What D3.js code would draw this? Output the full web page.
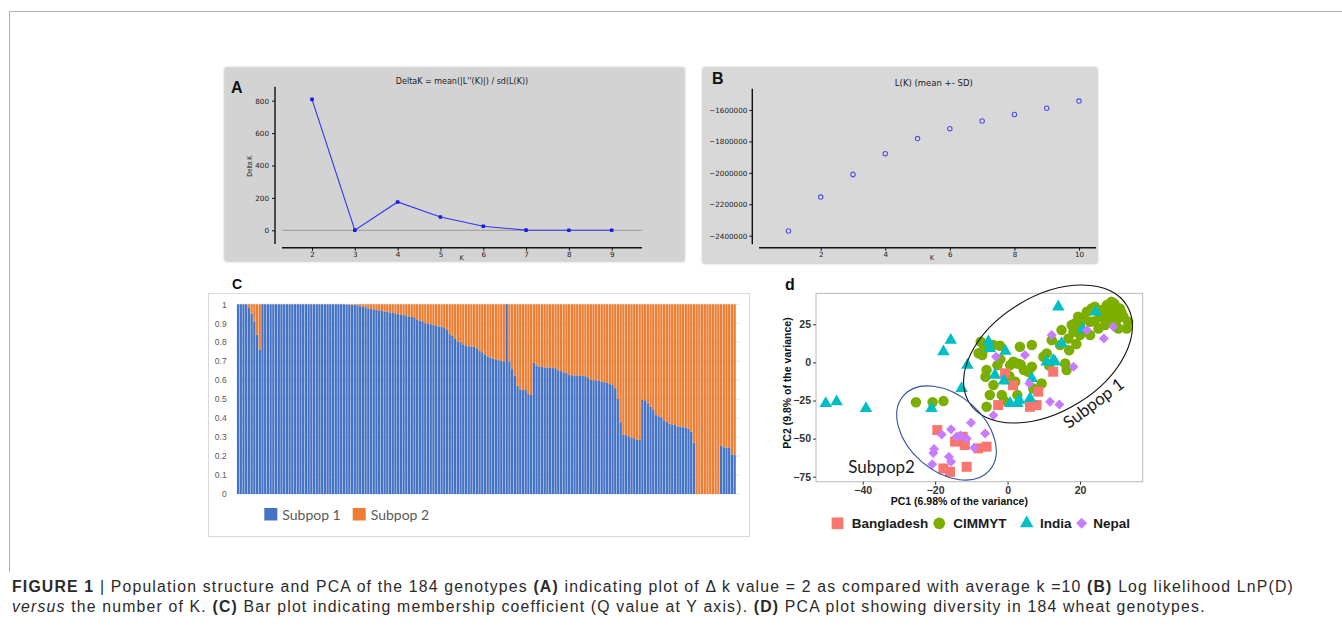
<!DOCTYPE html>
<html><head><meta charset="utf-8">
<script src="https://cdn.jsdelivr.net/npm/d3@7"></script>
<style>html,body{margin:0;padding:0;background:#fff;} svg{display:block;}</style>
</head><body>
<svg id="fig" width="1342" height="627"></svg>
<script>
// ---------------- DATA ----------------
// Panel A: Delta K
const deltaKs = [2, 3, 4, 5, 6, 7, 8, 9];
const deltaKValues = [808, 1, 175, 82, 25, 1, 0, 0];
const deltaKTicks = [0, 200, 400, 600, 800];
// Panel B: L(K) mean +- SD
const lnKs = [1, 2, 3, 4, 5, 6, 7, 8, 9, 10];
const lnMean = [-2370000, -2154000, -2010000, -1878000, -1782000, -1719000, -1670000, -1628000, -1589000, -1543000];
const lnSD = [5000, 5000, 20000, 5000, 5000, 5000, 5000, 5000, 5000, 5000];
const lnYTicks = [-1600000, -1800000, -2000000, -2200000, -2400000];
const lnXTicks = [2, 4, 6, 8, 10];
// Panel C: membership coefficient (Subpop 1 share) of 184 genotypes
const qSubpop1 = [
1,1,1,1,0.98,0.95,0.91,0.84,0.76,
1,1,1,1,1,1,1,1,1,1,1,1,1,1,1,1,1,1,1,1,1,1,1,1,1,1,1,1,1,1,1,
0.998,0.997,0.996,0.996,0.995,0.99,0.987,0.985,0.978,0.975,
0.972,0.970,0.967,0.965,0.962,0.960,0.957,0.955,0.952,0.948,
0.946,0.944,0.938,0.936,0.933,0.932,0.917,0.913,0.911,0.900,
0.897,0.895,0.891,0.889,0.882,0.880,0.878,0.865,0.842,0.834,
0.817,0.802,0.800,0.789,0.781,0.779,0.777,0.776,0.768,0.754,
0.747,0.736,0.724,0.720,0.713,0.710,0.705,0.702,0.698,1.0,
0.697,0.658,0.623,0.570,0.552,0.549,0.548,0.527,0.522,0.691,
0.678,0.672,0.670,0.667,0.666,0.665,0.664,0.663,0.652,0.648,
0.641,0.639,0.627,0.626,0.625,0.624,0.623,0.622,0.621,0.615,
0.602,0.600,0.599,0.598,0.592,0.590,0.586,0.579,0.577,0.558,
0.501,0.378,0.312,0.310,0.302,0.296,0.294,0.286,0.285,0.497,
0.494,0.478,0.460,0.443,0.416,0.410,0.404,0.385,0.381,0.370,
0.367,0.364,0.356,0.354,0.352,0.350,0.344,0.328,0.270,0,
0,0,0,0,0,0,0,0,
0.255,0.246,0.245,0.244,0.209,0.205
];
const qTicks = [0, 0.1, 0.2, 0.3, 0.4, 0.5, 0.6, 0.7, 0.8, 0.9, 1];
const qTickLabels = ["0", "0.1", "0.2", "0.3", "0.4", "0.5", "0.6", "0.7", "0.8", "0.9", "1"];
const subpopNames = ["Subpop 1", "Subpop 2"];
// Panel D: PCA
const pcaGroups = ["Bangladesh", "CIMMYT", "India", "Nepal"];
const pcaXTicks = [-40, -20, 0, 20];
const pcaYTicks = [-75, -50, -25, 0, 25];
const bangladeshPts = [[-19.4,-44.4],[-12.4,-48.8],[-11.8,-54.2],[-8.1,-56.4],[-5.8,-55.3],[-17.7,-69.6],[-15.9,-71.8],[-11.3,-68.5],
  [-0.7,-7.2],[1.5,-15.0],[-2.6,-28.0],[6.2,-29.1],[8.0,-28.0],[8.5,-19.2],[12.6,-6.1],[-14.5,-52.0]];
const cimmytPts = [[-25.3,-26.2],[-20.7,-26.2],[-17.7,-25.4],[-5.8,-29.1],[-7.4,13.6],[-7.0,4.8],[-6.1,-9.4],[-3.9,11.4],[-2.1,10.9],
  [-2.8,-1.8],[-3.9,-14.9],[-4.9,-21.4],[-1.6,-21.4],[0.7,-1.8],[1.6,0.4],[2.7,-0.7],[3.6,-1.3],[2.1,-12.7],[2.7,-21.4],[5.7,-6.1],
  [6.7,-2.9],[9.4,-13.8],[9.9,3.7],[10.8,5.9],[12.2,14.6],[14.5,11.4],[14.9,21.2],[15.9,-0.7],[16.3,-5.0],[16.8,15.7],[18.6,25.6],
  [18.2,20.1],[19.5,30.0],[20.0,24.5],[21.9,33.2],[22.8,26.7],[24.1,36.5],[25.5,30.0],[26.0,34.4],[27.4,37.6],[28.7,39.8],[29.2,33.2],
  [30.1,27.7],[31.0,35.4],[32.0,30.0],[32.9,22.3],[33.3,26.6],[30.6,22.3],[26.9,24.5],[25.1,22.3],[22.8,17.9],[21.0,28.8],[20.0,17.9],
  [19.1,21.2],[17.7,24.5],[23.2,35.4],[29.5,38.5],[27.8,31.1],[6.7,11.4],[-6.5,9.0],[-5.8,-5.0],[3.4,10.3],[7.1,-17.1],[-2.0,2.0],
  [-8.0,6.0],[4.5,-5.0],[11.5,-2.0],[17.0,8.0],[24.0,27.0],[28.0,28.0],[31.5,32.5],[19.0,12.0],[-1.0,-25.0],[0.5,-9.0]];
const indiaPts = [[-50.2,-26.9],[-47.2,-25.8],[-39.1,-30.2],[-17.7,7.0],[-15.7,14.6],[-11.1,-1.8],[-12.7,-17.1],[-21.0,-30.2],
  [-5.3,13.6],[-4.9,9.2],[-0.6,7.4],[-3.5,-8.3],[-1.0,-12.2],[0.7,-26.9],[2.7,-26.9],[3.2,-24.7],[6.2,-23.6],[6.7,-10.5],
  [10.8,0.4],[12.6,1.5],[14.0,36.5],[14.9,12.4],[24.4,33.2],[20.7,21.8],[13.1,0.4]];
const nepalPts = [[-3.2,3.7],[4.8,4.8],[6.0,-13.8],[12.2,17.9],[18.2,-2.9],[21.9,21.2],[26.6,15.7],[29.2,23.4],[11.7,-25.8],[14.3,-27.6],
  [-3.9,-34.6],[-10.1,-39.6],[-18.2,-47.3],[-15.6,-43.8],[-14.1,-48.8],[-11.3,-49.9],[-6.2,-46.6],[-9.2,-56.0],[-20.3,-56.9],
  [-20.5,-59.5],[-16.2,-61.9],[-15.6,-65.2],[-20.8,-66.9],[-13.0,-48.0]];

// ---------------- DRAW ----------------
const svg = d3.select("#fig");
const defs = svg.append("defs");
const f = defs.append("filter").attr("id","shadow").attr("x","-5%").attr("y","-5%").attr("width","110%").attr("height","110%");
f.append("feDropShadow").attr("dx",0).attr("dy",0).attr("stdDeviation",1.6).attr("flood-color","#777").attr("flood-opacity",0.8);

// outer frame
svg.append("path").attr("d","M9.5,572 V11.5 H1342").attr("fill","none").attr("stroke","#b0b0b0").attr("stroke-width",1);

function styleAxis(g, size, family, color){
  g.attr("font-size", size).attr("font-family", family);
  g.selectAll("text").attr("fill", color);
  g.selectAll("line").attr("stroke", "#111");
}

// ===== Panel A =====
const gA = svg.append("g");
gA.append("rect").attr("x",225).attr("y",68).attr("width",459).attr("height",193).attr("fill","#d3d3d3").attr("filter","url(#shadow)");
const xA = d3.scaleLinear().domain([2,9]).range([312,611.7]);
const yA = d3.scaleLinear().domain([0,800]).range([230.3,100.7]);
gA.append("line").attr("x1",282).attr("x2",642).attr("y1",yA(0)).attr("y2",yA(0)).attr("stroke","#8a8a8a").attr("stroke-width",0.8);
const ayA = gA.append("g").attr("transform","translate(275,0)")
  .call(d3.axisLeft(yA).tickValues(deltaKTicks).tickSize(3).tickPadding(3).tickFormat(d3.format("d")));
ayA.select(".domain").remove();
styleAxis(ayA, 7.2, "DejaVu Sans", "#222");
gA.append("line").attr("x1",275).attr("x2",275).attr("y1",86.7).attr("y2",244).attr("stroke","#111").attr("stroke-width",1.4);
const axA = gA.append("g").attr("transform","translate(0,247.7)")
  .call(d3.axisBottom(xA).tickValues(deltaKs).tickSize(3).tickPadding(1).tickFormat(d3.format("d")));
axA.select(".domain").remove();
styleAxis(axA, 7.2, "DejaVu Sans", "#222");
gA.append("line").attr("x1",282).attr("x2",642).attr("y1",247.7).attr("y2",247.7).attr("stroke","#111").attr("stroke-width",1.4);
gA.append("text").attr("x",462).attr("y",84).attr("text-anchor","middle").attr("font-family","DejaVu Sans").attr("font-size",8).attr("fill","#222")
  .text("DeltaK = mean(|L''(K)|) / sd(L(K))");
gA.append("text").attr("transform","translate(251.5,166) rotate(-90)").attr("text-anchor","middle").attr("font-family","Liberation Sans").attr("font-size",6.5).attr("fill","#222").text("Delta K");
gA.append("text").attr("x",461.7).attr("y",260).attr("text-anchor","middle").attr("font-family","DejaVu Sans").attr("font-size",6.5).attr("fill","#222").text("K");
gA.append("path").datum(deltaKs.map((k,i)=>[k,deltaKValues[i]]))
  .attr("d", d3.line().x(d=>xA(d[0])).y(d=>yA(d[1]))).attr("fill","none").attr("stroke","#3434f4").attr("stroke-width",1.1);
gA.selectAll("rect.pt").data(deltaKs.map((k,i)=>[k,deltaKValues[i]])).join("rect").attr("class","pt")
  .attr("x",d=>xA(d[0])-1.8).attr("y",d=>yA(d[1])-1.8).attr("width",3.6).attr("height",3.6).attr("rx",0.8).attr("fill","#1a1ae6");
gA.append("text").attr("x",231).attr("y",92.5).attr("font-family","Liberation Sans").attr("font-weight","bold").attr("font-size",16).attr("fill","#111").text("A");

// ===== Panel B =====
const gB = svg.append("g");
gB.append("rect").attr("x",703).attr("y",68).attr("width",394).attr("height",195).attr("fill","#d8d8d8").attr("filter","url(#shadow)");
const xB = d3.scaleLinear().domain([2,10]).range([820.7,1079]);
const yB = d3.scaleLinear().domain([-2400000,-1600000]).range([235.7,110]);
const ayB = gB.append("g").attr("transform","translate(752.3,0)")
  .call(d3.axisLeft(yB).tickValues(lnYTicks).tickSize(3).tickPadding(2).tickFormat(d=>d3.format("d")(d).replace("-","\u2212")));
ayB.select(".domain").remove();
styleAxis(ayB, 7.2, "DejaVu Sans", "#222");
gB.append("line").attr("x1",752.3).attr("x2",752.3).attr("y1",88.7).attr("y2",244.3).attr("stroke","#111").attr("stroke-width",1.4);
const axB = gB.append("g").attr("transform","translate(0,247.7)")
  .call(d3.axisBottom(xB).tickValues(lnXTicks).tickSize(3).tickPadding(1).tickFormat(d3.format("d")));
axB.select(".domain").remove();
styleAxis(axB, 7.2, "DejaVu Sans", "#222");
gB.append("line").attr("x1",759).attr("x2",1096).attr("y1",247.7).attr("y2",247.7).attr("stroke","#111").attr("stroke-width",1.4);
gB.append("text").attr("x",933.8).attr("y",85.5).attr("text-anchor","middle").attr("font-family","DejaVu Sans").attr("font-size",8.5).attr("fill","#222").text("L(K) (mean +- SD)");
gB.append("text").attr("x",932).attr("y",260).attr("text-anchor","middle").attr("font-family","DejaVu Sans").attr("font-size",6.5).attr("fill","#222").text("K");
const bPts = lnKs.map((k,i)=>({k:k, m:lnMean[i], s:lnSD[i]}));
gB.selectAll("line.err").data(bPts).join("line").attr("class","err")
  .attr("x1",d=>xB(d.k)).attr("x2",d=>xB(d.k)).attr("y1",d=>yB(d.m-d.s)).attr("y2",d=>yB(d.m+d.s)).attr("stroke","#4a4ae0").attr("stroke-width",0.9);
gB.selectAll("circle.pt").data(bPts).join("circle").attr("class","pt")
  .attr("cx",d=>xB(d.k)).attr("cy",d=>yB(d.m)).attr("r",2.2).attr("fill","#e3e0c8").attr("stroke","#4f4ff0").attr("stroke-width",1.1);
gB.append("text").attr("x",712).attr("y",84.3).attr("font-family","Liberation Sans").attr("font-weight","bold").attr("font-size",16).attr("fill","#111").text("B");

// ===== Panel C =====
const gC = svg.append("g");
gC.append("rect").attr("x",208.5).attr("y",293.5).attr("width",541).attr("height",243).attr("fill","#fff").attr("stroke","#d9d9d9").attr("stroke-width",1);
const xC = d3.scaleBand().domain(d3.range(qSubpop1.length)).range([236.7,736]).paddingInner(0.16).paddingOuter(0.08);
const yC = d3.scaleLinear().domain([0,1]).range([494,304.3]);
gC.selectAll("line.grid").data(qTicks).join("line").attr("class","grid")
  .attr("x1",236.7).attr("x2",740).attr("y1",d=>yC(d)).attr("y2",d=>yC(d)).attr("stroke","#d9d9d9").attr("stroke-width",0.8);
const ayC = gC.append("g").attr("transform","translate(236.7,0)")
  .call(d3.axisLeft(yC).tickValues(qTicks).tickSize(0).tickPadding(10).tickFormat((d,i)=>qTickLabels[i]));
ayC.select(".domain").remove();
ayC.attr("font-size",8.5).attr("font-family","Liberation Sans");
ayC.selectAll("text").attr("fill","#595959");
gC.selectAll("rect.s2").data(qSubpop1).join("rect").attr("class","s2")
  .attr("x",(d,i)=>xC(i)).attr("width",xC.bandwidth()).attr("y",yC(1)).attr("height",d=>yC(d)-yC(1)).attr("fill","#ED7D31");
gC.selectAll("rect.s1").data(qSubpop1).join("rect").attr("class","s1")
  .attr("x",(d,i)=>xC(i)).attr("width",xC.bandwidth()).attr("y",d=>yC(d)).attr("height",d=>yC(0)-yC(d)).attr("fill","#4472C4");
const legC = [{n:subpopNames[0], c:"#4472C4", x:264.3},{n:subpopNames[1], c:"#ED7D31", x:352.7}];
legC.forEach(l=>{
  gC.append("rect").attr("x",l.x).attr("y",508).attr("width",13).attr("height",12.5).attr("fill",l.c);
  gC.append("text").attr("x",l.x+18).attr("y",519.5).attr("font-family","Lato").attr("font-size",14).attr("fill","#595959").text(l.n);
});
gC.append("text").attr("x",232).attr("y",289).attr("font-family","Liberation Sans").attr("font-weight","bold").attr("font-size",14).attr("fill","#111").text("C");

// ===== Panel D =====
const gD = svg.append("g");
const xD = d3.scaleLinear().domain([-40,20]).range([862.7,1080]);
const yD = d3.scaleLinear().domain([-75,25]).range([476.7,324.3]);
const pl = 816, pr = 1142.7, pt = 293.3, pb = 481.7;
gD.append("rect").attr("x",pl).attr("y",pt).attr("width",pr-pl).attr("height",pb-pt).attr("fill","#fff").attr("stroke","#b8b8b8").attr("stroke-width",1);
const axD = gD.append("g").attr("transform",`translate(0,${pb})`).call(d3.axisBottom(xD).tickValues(pcaXTicks).tickSize(3).tickPadding(2));
axD.select(".domain").remove();
axD.attr("font-size",10.5).attr("font-family","Liberation Sans").attr("font-weight","bold");
axD.selectAll("text").attr("fill","#333");
axD.selectAll("line").attr("stroke","#333");
const ayD = gD.append("g").attr("transform",`translate(${pl},0)`).call(d3.axisLeft(yD).tickValues(pcaYTicks).tickSize(3).tickPadding(2));
ayD.select(".domain").remove();
ayD.attr("font-size",10.5).attr("font-family","Liberation Sans").attr("font-weight","bold");
ayD.selectAll("text").attr("fill","#333");
ayD.selectAll("line").attr("stroke","#333");
gD.append("text").attr("x",(pl+pr)/2 - 20).attr("y",505).attr("text-anchor","middle").attr("font-family","Liberation Sans").attr("font-weight","bold").attr("font-size",10.5).attr("fill","#111").text("PC1 (6.98% of the variance)");
gD.append("text").attr("transform","translate(791,383) rotate(-90)").attr("text-anchor","middle").attr("font-family","Liberation Sans").attr("font-weight","bold").attr("font-size",10.5).attr("fill","#111").text("PC2 (9.8% of the variance)");

const colors = {Bangladesh:"#F8766D", CIMMYT:"#7CAE00", India:"#00BFC4", Nepal:"#C77CFF"};
const shapePath = {
  Bangladesh: s => `M${-s/2},${-s/2}h${s}v${s}h${-s}Z`,
  CIMMYT: s => { const r=s/2; return `M${-r},0a${r},${r} 0 1,0 ${2*r},0a${r},${r} 0 1,0 ${-2*r},0Z`; },
  India: s => { const h=s*Math.sqrt(3)/2; return `M0,${-2*h/3}L${s/2},${h/3}L${-s/2},${h/3}Z`; },
  Nepal: s => { const r=s/2; return `M0,${-r}L${r},0L0,${r}L${-r},0Z`; }
};
const ptSize = {Bangladesh:10, CIMMYT:10.5, India:12.5, Nepal:10};
const groupData = [["CIMMYT", cimmytPts],["Bangladesh", bangladeshPts],["India", indiaPts],["Nepal", nepalPts]];
groupData.forEach(([g, pts])=>{
  gD.selectAll(`path.p-${g}`).data(pts).join("path").attr("class",`p-${g}`)
    .attr("transform",d=>`translate(${xD(d[0])},${yD(d[1])})`)
    .attr("d", shapePath[g](ptSize[g])).attr("fill", colors[g]);
});
// ellipses
gD.append("ellipse").attr("transform","translate(1048,354) rotate(-31.6)").attr("rx",92.6).attr("ry",57.6)
  .attr("fill","none").attr("stroke","#111").attr("stroke-width",1.1);
gD.append("ellipse").attr("transform","translate(946.5,433) rotate(41)").attr("rx",57).attr("ry",38)
  .attr("fill","none").attr("stroke","#2f4f9f").attr("stroke-width",1.1);
gD.append("text").attr("x",848.3).attr("y",473.3).attr("font-family","Lato").attr("font-size",17).attr("fill","#1a1a1a").text("Subpop2");
gD.append("text").attr("transform","translate(1097,408) rotate(-37)").attr("text-anchor","middle").attr("font-family","Lato").attr("font-size",17).attr("fill","#1a1a1a").text("Subpop 1");
// legend
const legD = [{g:"Bangladesh", cx:837.5, tx:851.7},{g:"CIMMYT", cx:939.3, tx:953.3},{g:"India", cx:1026.7, tx:1040},{g:"Nepal", cx:1081.7, tx:1093.3}];
legD.forEach(l=>{
  const s = l.g==="India" ? 13.5 : (l.g==="Nepal" ? 11 : 11.7);
  gD.append("path").attr("transform",`translate(${l.cx},523.3)`).attr("d",shapePath[l.g](s)).attr("fill",colors[l.g]);
  gD.append("text").attr("x",l.tx).attr("y",528.2).attr("font-family","Liberation Sans").attr("font-weight","bold").attr("font-size",13.5).attr("fill","#1a1a1a").text(l.g);
});
gD.append("text").attr("x",785).attr("y",290).attr("font-family","Liberation Sans").attr("font-weight","bold").attr("font-size",16).attr("fill","#111").text("d");

// ===== Caption =====
const cap = svg.append("g").attr("font-family","Liberation Sans").attr("fill","#2a2a2a");
const line1 = [["FIGURE 1","bold",""],[" | Population structure and PCA of the 184 genotypes ","",""],["(A)","bold",""],[" indicating plot of \u0394 k value = 2 as compared with average k =10 ","",""],["(B)","bold",""],[" Log likelihood LnP(D)","",""]];
const line2 = [["versus","","italic"],[" the number of K. ","",""],["(C)","bold",""],[" Bar plot indicating membership coefficient (Q value at Y axis). ","",""],["(D)","bold",""],[" PCA plot showing diversity in 184 wheat genotypes.","",""]];
function capLine(parts, y){
  const t = cap.append("text").attr("x",12).attr("y",y).attr("font-size",15.8).attr("xml:space","preserve");
  parts.forEach(p=>{ const ts=t.append("tspan").text(p[0]); if(p[1]) ts.attr("font-weight",p[1]); if(p[2]) ts.attr("font-style",p[2]); });
  return t;
}
const t1 = capLine(line1, 592);
const t2 = capLine(line2, 612);
const w1 = t1.node().getComputedTextLength();
const n1 = line1.map(p=>p[0]).join("").length;
const ls = (1282 - w1) / n1;
t1.attr("letter-spacing", ls); t2.attr("letter-spacing", ls);
</script></body></html>
